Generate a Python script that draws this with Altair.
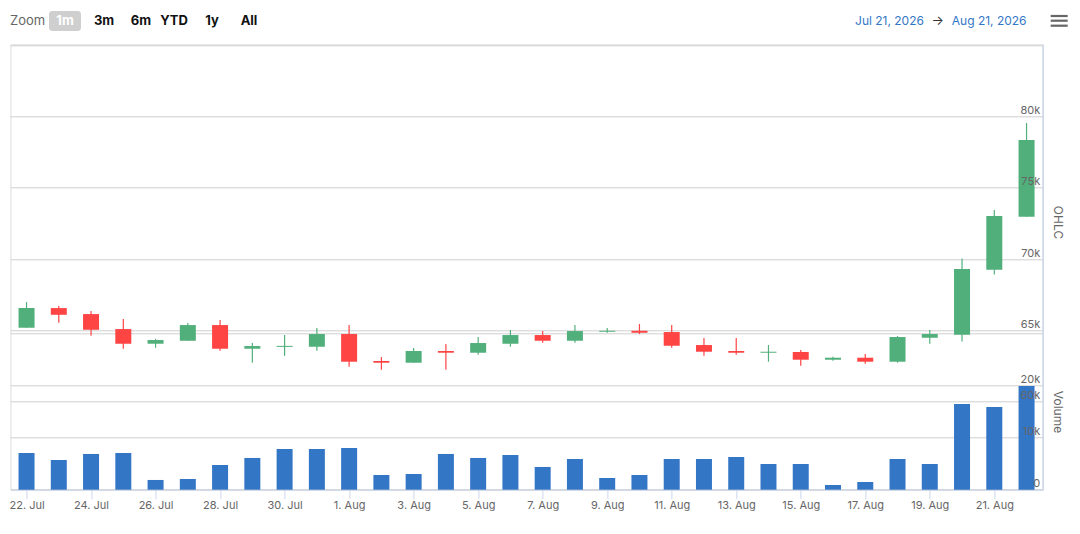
import altair as alt
import pandas as pd

FONT = "Inter"

# ---- data ----
dates = pd.date_range("2026-07-22", "2026-08-22", freq="D").strftime("%Y-%m-%d").tolist()
open_ = [65180, 66560, 66140, 65090, 64060, 64270, 65370, 63710, 63840, 63850,
         64740, 62850, 62730, 63550, 63430, 64060, 64670, 64270, 64900, 64970,
         64880, 63970, 63550, 63430, 63480, 62940, 63080, 62800, 64480, 64690,
         69250, 72960]
high = [66980, 66700, 66350, 65790, 64410, 65510, 65720, 64110, 64670, 65160,
        65370, 63130, 63760, 64040, 64530, 65020, 64950, 65370, 65160, 65440,
        65370, 64460, 64460, 63970, 63620, 63150, 63340, 64600, 65020, 70040,
        73430, 79530]
low = [65180, 65530, 64620, 63710, 63780, 64270, 63570, 62730, 63220, 63570,
       62450, 62240, 62730, 62240, 63290, 63850, 64130, 64130, 64830, 64740,
       63780, 63220, 63290, 62800, 62520, 62870, 62660, 62730, 64060, 64210,
       68920, 72960]
close = [66560, 66090, 65040, 64060, 64320, 65370, 63710, 63900, 63910, 64740,
         62800, 62730, 63550, 63430, 64110, 64670, 64270, 64950, 64970, 64830,
         63920, 63500, 63430, 63500, 62940, 63080, 62800, 64530, 64740, 69300,
         73010, 78340]
volume = [7060, 5710, 6870, 7060, 1870, 2060, 4750, 6100, 7830, 7830,
          8020, 2830, 3020, 6870, 6100, 6670, 4370, 5900, 2250, 2830,
          5900, 5900, 6290, 4940, 4940, 900, 1480, 5900, 4940, 16480,
          15900, 19940]

UP, DOWN, VOL = "#51AF7B", "#FF4444", "#3476C6"
GRID, AXIS, LABEL = "#cfcfcf", "#ccd6eb", "#666666"


def ms(s):
    return int(pd.Timestamp(s, tz="UTC").value // 10**6)


df = pd.DataFrame({"date": [ms(d) for d in dates], "open": open_, "high": high, "low": low,
                   "close": close, "volume": volume})
df["col"] = [UP if c >= o else DOWN for o, c in zip(open_, close)]

x_dom = [ms("2026-07-21T12:00"), ms("2026-08-22T12:00")]
tick_vals = [ms(d) for d in dates[::2]]

W, H = 1032.3, 445.4

xaxis = alt.Axis(values=tick_vals, labelExpr="utcFormat(datum.value, '%-d. %b')",
                 labelColor=LABEL, labelFontSize=11, labelFont=FONT,
                 tickColor=AXIS, tickSize=9, domainColor=AXIS, grid=False,
                 labelPadding=1, labelFlush=False, labelOverlap=False, title=None)
X = alt.X("date:T", scale=alt.Scale(type="utc", domain=x_dom, padding=0), axis=xaxis)

ohlc_scale = alt.Scale(domain=[53830, 85050], nice=False, zero=False, padding=0)
vol_scale = alt.Scale(domain=[0, 85650], nice=False, zero=True, padding=0)

ohlc_grid_axis = alt.Axis(orient="right", values=[60000, 65000, 70000, 75000, 80000, 85000],
                          grid=True, gridColor=GRID, labels=False, ticks=False, tickSize=0,
                          domainColor=AXIS, title=None, zindex=0)
ohlc_label_axis = alt.Axis(orient="right", values=[60000, 65000, 70000, 75000, 80000],
                           labelExpr="(datum.value/1000) + 'k'", grid=False, ticks=False,
                           tickSize=0, domain=False, labelAlign="right", labelPadding=-3,
                           labelBaseline="alphabetic", labelOffset=-3, labelColor=LABEL,
                           labelFontSize=11, labelFont=FONT, labelOverlap=False, labelFlush=False,
                           title="OHLC", titleX=15.3, titleY=177.7, titleAngle=90,
                           titleAlign="center", titleBaseline="middle", titleColor=LABEL,
                           titleFontSize=12, titleFontWeight="normal", titleFont=FONT, zindex=1)
vol_grid_axis = alt.Axis(orient="right", values=[0, 10000, 20000, 30000], grid=True,
                         gridColor=GRID, labels=False, ticks=False, tickSize=0,
                         domainColor=AXIS, title=None, zindex=0)
vol_label_axis = alt.Axis(orient="right", values=[0, 10000, 20000],
                          labelExpr="datum.value == 0 ? '0' : (datum.value/1000) + 'k'",
                          grid=False, ticks=False, tickSize=0, domain=False,
                          labelAlign="right", labelPadding=-3, labelBaseline="alphabetic",
                          labelOffset=-3, labelColor=LABEL, labelFontSize=11, labelFont=FONT,
                          labelOverlap=False, labelFlush=False,
                          title="Volume", titleX=15.3, titleY=367.2, titleAngle=90,
                          titleAlign="center", titleBaseline="middle", titleColor=LABEL,
                          titleFontSize=12, titleFontWeight="normal", titleFont=FONT, zindex=1)

base = alt.Chart(df)
COLOR = alt.Color("col:N", scale=None)

wick = base.mark_rule(strokeWidth=1.2).encode(
    x=X, y=alt.Y("low:Q", scale=ohlc_scale, axis=ohlc_grid_axis), y2="high:Q", color=COLOR)
body = base.mark_bar(size=16).encode(
    x=X, y=alt.Y("open:Q", scale=ohlc_scale, axis=ohlc_label_axis), y2="close:Q", color=COLOR)
ohlc = alt.layer(wick, body).resolve_axis(y="independent")

vbars = base.mark_bar(size=16, color=VOL).encode(
    x=X, y=alt.Y("volume:Q", scale=vol_scale, axis=vol_grid_axis))
vlabels = base.mark_bar(size=16, opacity=0).encode(
    x=X, y=alt.Y("volume:Q", scale=vol_scale, axis=vol_label_axis))
vol = alt.layer(vbars, vlabels).resolve_axis(y="independent")


def txt(t, x, y, **kw):
    return alt.Chart(pd.DataFrame({"t": [t]})).mark_text(font=FONT, baseline="middle", **kw).encode(
        x=alt.value(x), y=alt.value(y), text="t:N")


decor = [
    txt("Zoom", -0.4, -23.3, align="left", fontSize=13, color=LABEL),
    alt.Chart(pd.DataFrame({"a": [0]})).mark_rect(color="#cfcfcf", cornerRadius=3).encode(
        x=alt.value(38.6), x2=alt.value(70.6), y=alt.value(-33.3), y2=alt.value(-13.3)),
    txt("1m", 54.6, -23.3, align="center", fontSize=13, fontWeight="bold", color="#ffffff"),
    txt("3m", 93.6, -23.3, align="center", fontSize=13, fontWeight="bold", color="#111111"),
    txt("6m", 130.6, -23.3, align="center", fontSize=13, fontWeight="bold", color="#111111"),
    txt("YTD", 163.6, -23.3, align="center", fontSize=13, fontWeight="bold", color="#111111"),
    txt("1y", 201.6, -23.3, align="center", fontSize=13, fontWeight="bold", color="#111111"),
    txt("All", 238.6, -23.3, align="center", fontSize=13, fontWeight="bold", color="#111111"),
    txt("Jul 21, 2026", 879.1, -23.6, align="center", fontSize=12, color=VOL),
    txt("\u2192", 927.4, -23.6, align="center", fontSize=13, color="#333333"),
    txt("Aug 21, 2026", 978.8, -23.6, align="center", fontSize=12, color=VOL),
]
for yy in [-28.3, -23.6, -18.6]:
    decor.append(alt.Chart(pd.DataFrame({"a": [0]})).mark_rule(color=LABEL, strokeWidth=2.2).encode(
        x=alt.value(1040.3), x2=alt.value(1057.3), y=alt.value(yy)))

chart = alt.layer(ohlc, vol, *decor).resolve_scale(y="independent").properties(
    width=W, height=H,
    autosize=alt.AutoSizeParams(type="none"),
    padding={"left": 2.4, "top": 36.3, "right": 29, "bottom": 36},
).configure_view(stroke=None).configure(background="white")

chart.save("out.html", embed_options={"renderer": "svg", "actions": False})
